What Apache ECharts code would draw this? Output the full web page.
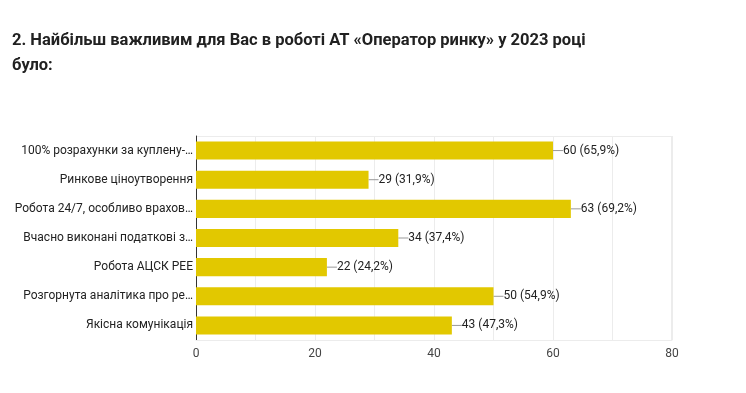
<!DOCTYPE html>
<html><head><meta charset="utf-8">
<script src="https://cdn.jsdelivr.net/npm/echarts@6/dist/echarts.min.js"></script>
<style>html,body{margin:0;padding:0;background:#fff}#c{width:746px;height:393px}</style>
</head><body><div id="c"></div>
<script>
const titleText = '2. Найбільш важливим для Вас в роботі АТ «Оператор ринку» у 2023 році\nбуло:';
const categories = ['100% розрахунки за куплену-…','Ринкове ціноутворення','Робота 24/7, особливо врахов…','Вчасно виконані податкові з…','Робота АЦСК РЕЕ','Розгорнута аналітика про ре…','Якісна комунікація'];
const values = [60, 29, 63, 34, 22, 50, 43];
const percents = ['65,9%','31,9%','69,2%','37,4%','24,2%','54,9%','47,3%'];
const xTicks = [0, 20, 40, 60, 80];

const chart = echarts.init(document.getElementById('c'));
chart.setOption({
  animation: false,
  textStyle: {fontFamily: 'Roboto, Arial, sans-serif'},
  title: {text: titleText, left: 7, top: 23, textStyle: {fontSize: 16.5, fontWeight: 'bold', color: '#212121', lineHeight: 25, fontFamily: 'Roboto'}},
  grid: {left: 196, right: 74, top: 136, bottom: 53},
  xAxis: {type: 'value', min: 0, max: 80, interval: 10,
    axisLabel: {color: '#444', fontSize: 12, margin: 8, formatter: v => xTicks.includes(v) ? String(v) : ''},
    splitLine: {show: true, lineStyle: {color: '#ececec'}},
    axisLine: {show: true, lineStyle: {color: '#ececec'}}, axisTick: {show: false}},
  yAxis: {type: 'category', data: categories, inverse: true,
    axisLabel: {color: '#222', fontSize: 12, margin: 3},
    axisLine: {show: true, lineStyle: {color: '#333'}}, axisTick: {show: false}},
  series: [{type: 'bar', data: values, barCategoryGap: '38%', itemStyle: {color: '#e2c800'},
    label: {show: true, position: 'right', distance: 0, color: '#222', fontSize: 12,
      formatter: p => p.value + ' (' + percents[p.dataIndex] + ')'},
    labelLayout: {dx: 10},
    labelLine: {show: true, lineStyle: {color: '#999', width: 1}}
  }],
  graphic: [{type: 'line', shape: {x1: 671.5, y1: 136, x2: 671.5, y2: 340}, style: {stroke: '#ececec'}},
            {type: 'line', shape: {x1: 196, y1: 136.5, x2: 671, y2: 136.5}, style: {stroke: '#ececec'}}]
});
</script></body></html>
